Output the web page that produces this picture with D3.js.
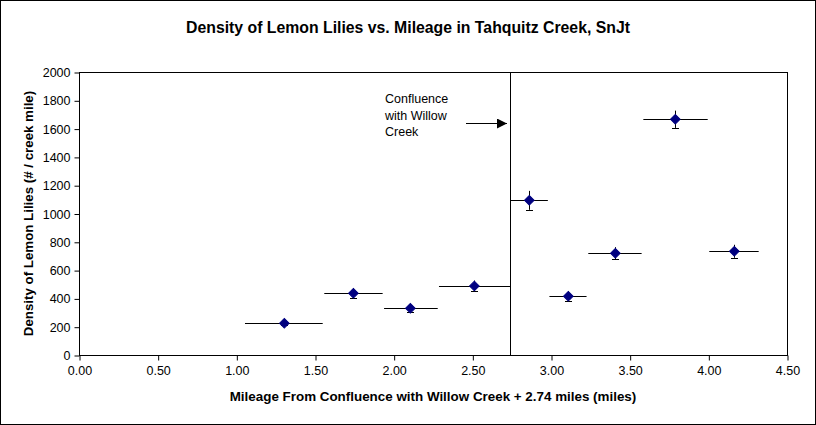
<!doctype html>
<html>
  <head>
    <script src="https://cdn.jsdelivr.net/npm/d3@7"></script>
    <style>
      body { margin: 0; background: #fff; }
      text { font-family: Arial, "Liberation Sans", sans-serif; }
    </style>
  </head>
  <body>
    <div id="chart"></div>
    <script>
      // data
      var mileage   = [1.305, 1.744, 2.106, 2.513, 2.862, 3.110, 3.409, 3.790, 4.165];
      var density   = [224, 436, 330, 488, 1093, 415, 719, 1666, 733];
      var xLow      = [1.055, 1.559, 1.939, 2.288, 2.745, 2.990, 3.237, 3.587, 4.006];
      var xHigh     = [1.549, 1.930, 2.280, 2.740, 2.980, 3.226, 3.576, 3.996, 4.320];
      var yErr      = [15, 36, 28, 38, 67, 35, 43, 61, 46];
      var confluence = 2.74;
      var xTicks = [0, 0.5, 1, 1.5, 2, 2.5, 3, 3.5, 4, 4.5];
      var yTicks = [0, 200, 400, 600, 800, 1000, 1200, 1400, 1600, 1800, 2000];

      var W = 816, H = 425;
      var plot = {left: 79, top: 72, right: 787, bottom: 355};

      var svg = d3.select("#chart").append("svg")
        .attr("width", W).attr("height", H);

      // outer frame
      svg.append("rect")
        .attr("x", 0.5).attr("y", 0.5)
        .attr("width", W - 1).attr("height", H - 1)
        .attr("fill", "#fff").attr("stroke", "#000");

      var x = d3.scaleLinear().domain([0, 4.5]).range([plot.left, plot.right]);
      var y = d3.scaleLinear().domain([0, 2000]).range([plot.bottom, plot.top]);

      // plot area box
      svg.append("rect")
        .attr("x", plot.left + 0.5).attr("y", plot.top + 0.5)
        .attr("width", plot.right - plot.left).attr("height", plot.bottom - plot.top)
        .attr("fill", "#fff").attr("stroke", "#000");

      // axes
      var gx = svg.append("g")
        .attr("transform", "translate(0.5," + (plot.bottom + 0.5) + ")")
        .call(d3.axisBottom(x).tickValues(xTicks).tickSize(5).tickPadding(6)
          .tickFormat(d3.format(".2f")));
      var gy = svg.append("g")
        .attr("transform", "translate(" + (plot.left + 0.5) + ",0.5)")
        .call(d3.axisLeft(y).tickValues(yTicks).tickSize(5).tickPadding(4)
          .tickFormat(d3.format("d")));
      [gx, gy].forEach(function(g) {
        g.select(".domain").remove();
        g.selectAll("line").attr("stroke", "#000");
        g.selectAll("text").attr("fill", "#000")
          .style("font-size", "12.5px").style("font-family", "Arial, 'Liberation Sans', sans-serif");
      });

      // confluence line
      svg.append("line")
        .attr("x1", Math.round(x(confluence)) + 0.5).attr("x2", Math.round(x(confluence)) + 0.5)
        .attr("y1", plot.top).attr("y2", plot.bottom)
        .attr("stroke", "#000");

      // annotation
      var note = svg.append("text")
        .attr("x", 385).attr("y", 103)
        .style("font-size", "12.5px").attr("fill", "#000");
      ["Confluence", "with Willow", "Creek"].forEach(function(s, i) {
        note.append("tspan").attr("x", 385).attr("dy", i ? 16.5 : 0).text(s);
      });
      svg.append("defs").append("marker")
        .attr("id", "arrow").attr("viewBox", "0 0 10 10")
        .attr("refX", 10).attr("refY", 5)
        .attr("markerWidth", 10).attr("markerHeight", 10)
        .attr("markerUnits", "userSpaceOnUse")
        .attr("orient", "auto")
        .append("path").attr("d", "M0,0L10,5L0,10Z").attr("fill", "#000");
      svg.append("line")
        .attr("x1", 466).attr("x2", 507)
        .attr("y1", 123.5).attr("y2", 123.5)
        .attr("stroke", "#000").attr("marker-end", "url(#arrow)");

      var idx = d3.range(mileage.length);

      // horizontal error bars
      svg.append("g").selectAll("line")
        .data(idx).enter().append("line")
          .attr("x1", function(i) { return x(xLow[i]); })
          .attr("x2", function(i) { return x(xHigh[i]); })
          .attr("y1", function(i) { return Math.round(y(density[i])) + 0.5; })
          .attr("y2", function(i) { return Math.round(y(density[i])) + 0.5; })
          .attr("stroke", "#000");

      // vertical error bars
      var ev = svg.append("g");
      ev.selectAll(".ev").data(idx).enter().append("line")
        .attr("x1", function(i) { return Math.round(x(mileage[i])) + 0.5; })
        .attr("x2", function(i) { return Math.round(x(mileage[i])) + 0.5; })
        .attr("y1", function(i) { return y(density[i] + yErr[i]); })
        .attr("y2", function(i) { return y(density[i] - yErr[i]); })
        .attr("stroke", "#000");
      ev.selectAll(".cap").data(idx).enter().append("line")
        .attr("x1", function(i) { return Math.round(x(mileage[i])) - 3; })
        .attr("x2", function(i) { return Math.round(x(mileage[i])) + 4; })
        .attr("y1", function(i) { return Math.round(y(density[i] - yErr[i])) + 0.5; })
        .attr("y2", function(i) { return Math.round(y(density[i] - yErr[i])) + 0.5; })
        .attr("stroke", "#000");

      // diamond markers
      svg.append("g").selectAll("path")
        .data(idx).enter().append("path")
          .attr("d", d3.symbol().type(d3.symbolSquare).size(46))
          .attr("transform", function(i) {
            return "translate(" + x(mileage[i]) + "," + y(density[i]) + ") rotate(45)";
          })
          .attr("fill", "#000080").attr("stroke", "#000080");

      // titles
      svg.append("text")
        .attr("x", 408).attr("y", 33)
        .attr("text-anchor", "middle")
        .style("font-size", "15.8px").style("font-weight", "bold")
        .text("Density of Lemon Lilies vs. Mileage in Tahquitz Creek, SnJt");
      svg.append("text")
        .attr("x", (plot.left + plot.right) / 2).attr("y", 401)
        .attr("text-anchor", "middle")
        .style("font-size", "13.4px").style("font-weight", "bold")
        .text("Mileage From Confluence with Willow Creek + 2.74 miles (miles)");
      svg.append("text")
        .attr("transform", "translate(33," + ((plot.top + plot.bottom) / 2) + ") rotate(-90)")
        .attr("text-anchor", "middle")
        .style("font-size", "13.3px").style("font-weight", "bold")
        .text("Density of Lemon Lilies (# / creek mile)");
    </script>
  </body>
</html>
